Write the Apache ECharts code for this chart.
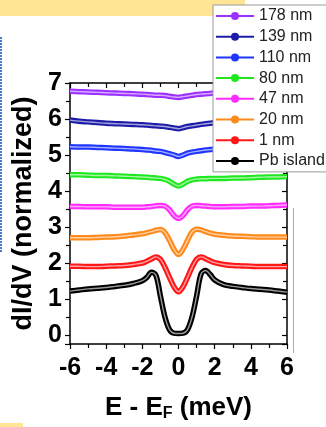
<!DOCTYPE html>
<html>
<head>
<meta charset="utf-8">
<script src="https://cdn.jsdelivr.net/npm/echarts@6/dist/echarts.min.js"></script>
<style>
  html, body { margin: 0; padding: 0; background: #fff; }
  #chart { width: 326px; height: 427px; }
</style>
</head>
<body>
<div id="chart"></div>
<script>
// bias energy (meV)
const energy = [-6, -5.5, -5, -4.5, -4, -3.5, -3, -2.5, -2, -1.75, -1.5, -1.25, -1, -0.75, -0.5, -0.25,
  0, 0.25, 0.5, 0.75, 1, 1.25, 1.5, 1.75, 2, 2.5, 3, 3.5, 4, 4.5, 5, 5.5, 6];

// dI/dV (normalized, offset) per film thickness
const pbIsland = [1.22, 1.25, 1.28, 1.3, 1.32, 1.35, 1.38, 1.43, 1.51, 1.6, 1.74, 1.66, 1.08, 0.5, 0.15, 0.05,
  0.04, 0.05, 0.15, 0.5, 1.08, 1.7, 1.79, 1.68, 1.53, 1.4, 1.35, 1.32, 1.29, 1.27, 1.25, 1.22, 1.19];
const nm1 = [1.91, 1.91, 1.9, 1.9, 1.91, 1.92, 1.93, 1.96, 2.0, 2.05, 2.11, 2.17, 2.1, 1.88, 1.6, 1.34,
  1.2, 1.34, 1.6, 1.88, 2.1, 2.17, 2.12, 2.06, 2.01, 1.96, 1.93, 1.92, 1.91, 1.9, 1.9, 1.9, 1.9];
const nm20 = [2.7, 2.7, 2.7, 2.71, 2.72, 2.73, 2.75, 2.78, 2.81, 2.84, 2.87, 2.91, 2.93, 2.85, 2.63, 2.38,
  2.24, 2.38, 2.63, 2.86, 2.94, 2.92, 2.87, 2.83, 2.8, 2.77, 2.75, 2.74, 2.73, 2.72, 2.72, 2.72, 2.72];
const nm47 = [3.57, 3.57, 3.56, 3.56, 3.56, 3.55, 3.55, 3.55, 3.55, 3.56, 3.57, 3.59, 3.6, 3.58, 3.48, 3.32,
  3.24, 3.32, 3.48, 3.58, 3.6, 3.59, 3.58, 3.57, 3.56, 3.56, 3.57, 3.57, 3.58, 3.58, 3.59, 3.6, 3.61];
const nm80 = [4.45, 4.45, 4.44, 4.43, 4.43, 4.42, 4.41, 4.4, 4.39, 4.38, 4.37, 4.36, 4.35, 4.32, 4.27, 4.19,
  4.14, 4.19, 4.27, 4.31, 4.33, 4.34, 4.34, 4.35, 4.35, 4.35, 4.36, 4.36, 4.37, 4.38, 4.39, 4.39, 4.4];
const nm110 = [5.23, 5.22, 5.22, 5.21, 5.2, 5.19, 5.18, 5.17, 5.15, 5.14, 5.13, 5.11, 5.1, 5.07, 5.04, 5.0,
  4.96, 5.0, 5.05, 5.08, 5.1, 5.12, 5.14, 5.15, 5.16, 5.17, 5.18, 5.19, 5.19, 5.2, 5.2, 5.21, 5.21];
const nm139 = [5.97, 5.94, 5.92, 5.9, 5.88, 5.87, 5.86, 5.85, 5.84, 5.83, 5.82, 5.81, 5.8, 5.79, 5.77, 5.75,
  5.73, 5.76, 5.79, 5.81, 5.83, 5.85, 5.87, 5.88, 5.9, 5.91, 5.92, 5.92, 5.93, 5.93, 5.93, 5.93, 5.93];
const nm178 = [6.77, 6.76, 6.75, 6.74, 6.73, 6.72, 6.71, 6.7, 6.69, 6.68, 6.67, 6.66, 6.66, 6.65, 6.63, 6.61,
  6.6, 6.62, 6.64, 6.66, 6.68, 6.69, 6.7, 6.71, 6.72, 6.73, 6.74, 6.74, 6.75, 6.75, 6.75, 6.75, 6.75];

const names = ["178 nm", "139 nm", "110 nm", "80 nm", "47 nm", "20 nm", "1 nm", "Pb island"];
const curves = [nm178, nm139, nm110, nm80, nm47, nm20, nm1, pbIsland];
const colors = ["#9b30ff", "#1c1ca8", "#1f35ff", "#1ee81e", "#ff2bff", "#ff8a1c", "#ff1717", "#000000"];

const FONT = "Liberation Sans, Arial, sans-serif";

const chart = echarts.init(document.getElementById("chart"), null, { renderer: "canvas" });

const series = [];
curves.forEach((vals, i) => {
  const pts = energy.map((e, k) => [e, vals[k]]);
  // measured spectrum (thick band)
  series.push({
    name: names[i],
    type: "line",
    data: pts,
    smooth: 0.35,
    symbol: "circle",
    symbolSize: 6,
    showSymbol: false,
    color: colors[i],
    lineStyle: { width: 5.5, color: colors[i] },
    z: 2,
  });
  // fit (thin pale line on top)
  series.push({
    name: names[i] + " fit",
    type: "line",
    data: pts,
    smooth: 0.35,
    showSymbol: false,
    silent: true,
    lineStyle: { width: 1.4, color: "rgba(255,255,255,0.6)" },
    z: 3,
  });
});

const tickLabel = { fontSize: 25, fontWeight: "bold", color: "#000", fontFamily: FONT };
const axisLine = { onZero: false, lineStyle: { color: "#000", width: 1.5 } };
const minor = { show: true, splitNumber: 2, length: 4, lineStyle: { color: "#000", width: 1.2 } };

const option = {
  animation: false,
  backgroundColor: "#fff",
  grid: { left: 70, right: 39, top: 83, bottom: 71 },
  legend: {
    data: names,
    orient: "vertical",
    left: 213,
    top: 5,
    padding: [3, 30, 3, 2],
    itemWidth: 38,
    itemHeight: 10,
    itemGap: 4.7,
    backgroundColor: "#fff",
    borderColor: "#999",
    borderWidth: 1,
    lineStyle: { width: 2 },
    textStyle: { fontSize: 16, color: "#222", fontFamily: FONT },
    z: 10,
  },
  xAxis: [
    {
      type: "value",
      min: -6,
      max: 6,
      interval: 2,
      position: "bottom",
      axisLine: axisLine,
      axisTick: { length: 5, lineStyle: { color: "#000", width: 1.2 } },
      minorTick: minor,
      splitLine: { show: false },
      axisLabel: Object.assign({ margin: 12 }, tickLabel),
      name: "E - E{s|F} (meV)",
      nameLocation: "middle",
      nameGap: 50,
      nameTextStyle: {
        fontSize: 26, fontWeight: "bold", color: "#000", fontFamily: FONT,
        rich: { s: { fontSize: 16, fontWeight: "bold", color: "#000", fontFamily: FONT, verticalAlign: "bottom", padding: [12, 0, 0, 0] } },
      },
    },
    {
      type: "value",
      min: -6,
      max: 6,
      interval: 2,
      position: "top",
      axisLine: axisLine,
      axisTick: { inside: true, length: 5, lineStyle: { color: "#000", width: 1.2 } },
      minorTick: minor,
      splitLine: { show: false },
      axisLabel: { show: false },
    },
  ],
  yAxis: [
    {
      type: "value",
      min: -0.25,
      max: 7,
      splitNumber: 7,
      position: "left",
      axisLine: Object.assign({ show: true }, axisLine),
      axisTick: { show: true, length: 5, lineStyle: { color: "#000", width: 1.2 } },
      minorTick: minor,
      splitLine: { show: false },
      axisLabel: Object.assign({
        margin: 8,
        showMinLabel: false,
        formatter: (v) => (Number.isInteger(v) ? String(v) : ""),
      }, tickLabel),
      name: "dI/dV (normalized)",
      nameLocation: "middle",
      nameGap: 30,
      nameTextStyle: { fontSize: 27, fontWeight: "bold", color: "#000", fontFamily: FONT },
    },
    {
      type: "value",
      min: -0.25,
      max: 7,
      splitNumber: 7,
      position: "right",
      axisLine: Object.assign({ show: true }, axisLine),
      axisTick: { show: true, inside: true, length: 5, lineStyle: { color: "#000", width: 1.2 } },
      minorTick: minor,
      splitLine: { show: false },
      axisLabel: { show: false },
    },
  ],
  graphic: [
    { type: "rect", left: 0, top: 0, shape: { width: 245, height: 16 }, style: { fill: "#ffe594" }, silent: true },
    { type: "rect", left: 0, top: 423, shape: { width: 23, height: 4 }, style: { fill: "#ffe594" }, silent: true },
    { type: "line", shape: { x1: 1, y1: 37, x2: 1, y2: 252 }, style: { stroke: "#4a78d6", lineWidth: 2, lineDash: [2, 1] }, silent: true },
    { type: "line", shape: { x1: 293.5, y1: 208, x2: 293.5, y2: 353 }, style: { stroke: "#aaa", lineWidth: 1 }, silent: true },
  ],
  series: series,
};

chart.setOption(option);
</script>
</body>
</html>
